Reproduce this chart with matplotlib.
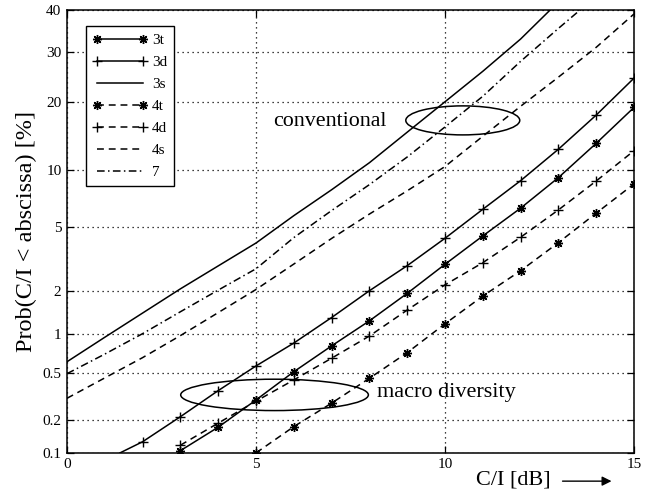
#!/usr/bin/env python3
"""Outage probability vs C/I for cluster sizes 3/4/7 (probit y-axis)."""

from math import erf, sqrt
from statistics import NormalDist

import numpy as np
import matplotlib
matplotlib.use("Agg")
import matplotlib.pyplot as plt
from matplotlib.patches import Ellipse
from matplotlib.ticker import FixedLocator, NullLocator

plt.rcParams["font.family"] = ["Liberation Serif", "DejaVu Serif"]

# ── data (C/I in dB, probability in %) ──
x_3t = [3, 4, 5, 6, 7, 8, 9, 10, 11, 12, 13, 14, 15]
y_3t = [0.105, 0.172, 0.297, 0.508, 0.809, 1.24, 1.93, 2.99, 4.45, 6.39, 9.22, 13.4, 19.0]

x_3d = [1.4, 2, 3, 4, 5, 6, 7, 8, 9, 10, 11, 12, 13, 14, 15]
y_3d = [0.1, 0.127, 0.213, 0.356, 0.565, 0.85, 1.31, 2.01, 2.93, 4.31, 6.30, 8.90, 12.6, 17.7, 24.5]

x_3s = [0, 1, 2, 3, 4, 5, 6, 7, 8, 9, 10, 11, 12, 13]
y_3s = [0.61, 0.94, 1.41, 2.07, 2.92, 4.04, 5.81, 8.0, 10.9, 15.0, 20.0, 25.9, 33.0, 42.0]

x_4t = [5, 6, 7, 8, 9, 10, 11, 12, 13, 14, 15]
y_4t = [0.1, 0.174, 0.279, 0.45, 0.718, 1.18, 1.85, 2.72, 4.06, 6.0, 8.57]

x_4d = [3, 4, 5, 6, 7, 8, 9, 10, 11, 12, 13, 14, 15]
y_4d = [0.118, 0.187, 0.29, 0.436, 0.65, 0.96, 1.48, 2.20, 3.06, 4.37, 6.25, 8.87, 12.4]

x_4s = [0, 1, 2, 3, 4, 5, 6, 7, 8, 9, 10, 11, 12, 13, 14, 15]
y_4s = [0.307, 0.453, 0.657, 0.967, 1.42, 2.05, 3.0, 4.3, 5.93, 7.9, 10.45, 14.4, 19.2, 24.7, 31.1, 39.0]

x_7 = [0, 1, 2, 3, 4, 5, 6, 7, 8, 9, 10, 11, 12, 13, 14]
y_7 = [0.49, 0.70, 1.0, 1.44, 2.03, 2.8, 4.35, 6.2, 8.5, 11.6, 15.8, 21.0, 28.0, 35.5, 43.4]

Y_TICKS = [0.1, 0.2, 0.5, 1, 2, 5, 10, 20, 30, 40]
Y_TICK_LABELS = ["0.1", "0.2", "0.5", "1", "2", "5", "10", "20", "30", "40"]
X_TICKS = [0, 5, 10, 15]

_nd = NormalDist()


def probit(p):
    """percent -> standard normal quantile"""
    p = np.asarray(p, dtype=float)
    q = np.clip(np.nan_to_num(p / 100.0, nan=0.5), 1e-9, 1 - 1e-9)
    return np.array([_nd.inv_cdf(v) for v in q.ravel()]).reshape(q.shape)


def inv_probit(z):
    z = np.asarray(z, dtype=float)
    out = np.array([0.5 * (1 + erf(v / sqrt(2))) for v in z.ravel()])
    return 100.0 * out.reshape(z.shape)


fig = plt.figure(figsize=(6.57, 4.95), dpi=100)
ax = fig.add_axes([0.102, 0.085, 0.863, 0.895])
ax.set_yscale("function", functions=(probit, inv_probit))

lw = 1.1
dash = (4.5, 3.2)
dashdot = (5, 2.2, 1, 2.2)
star = (8, 2, 0)

ax.plot(x_3t, y_3t, color="k", lw=lw, marker=star, ms=6.5, mew=1.0, label="3t")
ax.plot(x_3d, y_3d, color="k", lw=lw, marker="+", ms=6.5, mew=1.0,
        markevery=slice(1, None), label="3d")
ax.plot(x_3s, y_3s, color="k", lw=lw, label="3s")
ax.plot(x_4t, y_4t, color="k", lw=lw, dashes=dash, marker=star, ms=6.5, mew=1.0, label="4t")
ax.plot(x_4d, y_4d, color="k", lw=lw, dashes=dash, marker="+", ms=6.5, mew=1.0, label="4d")
ax.plot(x_4s, y_4s, color="k", lw=lw, dashes=dash, label="4s")
ax.plot(x_7, y_7, color="k", lw=lw, dashes=dashdot, label="7")

ax.set_xlim(0, 15)
ax.set_ylim(0.1, 40)
ax.xaxis.set_major_locator(FixedLocator(X_TICKS))
ax.set_xticklabels([str(t) for t in X_TICKS])
ax.yaxis.set_major_locator(FixedLocator(Y_TICKS))
ax.yaxis.set_minor_locator(NullLocator())
ax.set_yticklabels(Y_TICK_LABELS)
ax.tick_params(direction="in", length=5, width=0.9, labelsize=11,
               top=True, right=True, pad=4)
ax.grid(True, color="k", linestyle=(0, (1, 3)), linewidth=0.9)
for sp in ax.spines.values():
    sp.set_linewidth(1.1)

ax.set_ylabel("Prob(C/I < abscissa) [%]", fontsize=17.5, labelpad=4)

leg = ax.legend(loc="upper left", bbox_to_anchor=(0.033, 0.963), borderaxespad=0,
                fontsize=11, numpoints=2, handlelength=3.6, labelspacing=0.55,
                handletextpad=0.3, borderpad=0.45, fancybox=False, framealpha=1,
                edgecolor="k")
leg.get_frame().set_linewidth(1.0)

# annotations
ax.add_patch(Ellipse((0.698, 0.7506), 0.201, 0.0655, transform=ax.transAxes,
                     fill=False, edgecolor="k", lw=1.1))
ax.add_patch(Ellipse((0.366, 0.131), 0.331, 0.0708, transform=ax.transAxes,
                     fill=False, edgecolor="k", lw=1.1))
ax.text(0.363, 0.748, "conventional", transform=ax.transAxes, fontsize=15.8,
        ha="left", va="center")
ax.text(0.546, 0.136, "macro diversity", transform=ax.transAxes, fontsize=16,
        ha="left", va="center")

fig.text(0.725, 0.030, "C/I [dB]", fontsize=16, ha="left", va="center")
ax.annotate("", xy=(0.935, 0.028), xytext=(0.852, 0.028),
            xycoords="figure fraction", textcoords="figure fraction",
            arrowprops=dict(arrowstyle="-|>", color="k", lw=1.0,
                            mutation_scale=14))

fig.savefig("out.png", dpi=100)
